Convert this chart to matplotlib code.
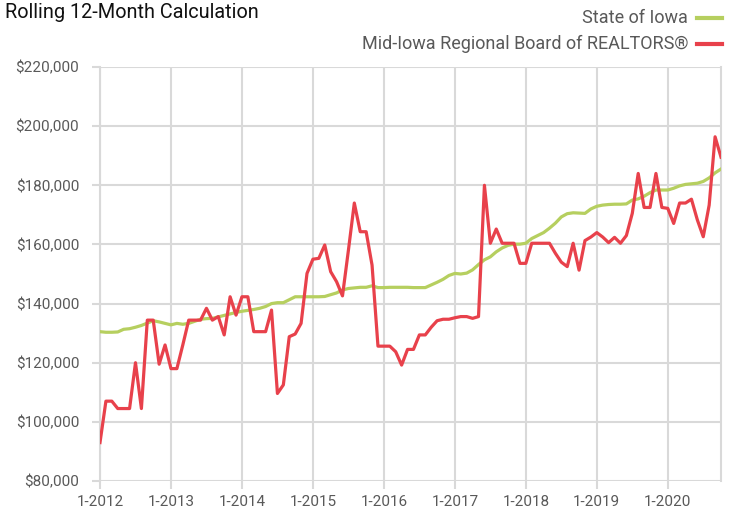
import matplotlib
matplotlib.use("Agg")
import matplotlib.pyplot as plt
from matplotlib.lines import Line2D
from matplotlib.ticker import FuncFormatter

plt.rcParams['font.family'] = ['Roboto', 'DejaVu Sans']

title = "Rolling 12-Month Calculation"
series_names = ["State of Iowa", "Mid-Iowa Regional Board of REALTORS®"]
tick_labels = ["1-2012", "1-2013", "1-2014", "1-2015", "1-2016",
               "1-2017", "1-2018", "1-2019", "1-2020"]

# Monthly values, Jan 2012 .. Oct 2020 (thousands of dollars)
state_iowa = [
    130.5, 130.3, 130.3, 130.4, 131.3, 131.5, 132.0, 132.6, 133.4, 134.2, 133.8, 133.3,
    132.8, 133.3, 133.0, 133.3, 134.0, 134.7, 134.9, 135.0, 135.5, 136.0, 136.5, 137.0,
    137.4, 137.7, 138.0, 138.4, 139.0, 140.0, 140.3, 140.3, 141.3, 142.3, 142.3, 142.3,
    142.3, 142.3, 142.4, 143.0, 143.6, 144.6, 145.1, 145.3, 145.5, 145.5, 146.0, 145.4,
    145.4, 145.5, 145.5, 145.5, 145.5, 145.4, 145.4, 145.4, 146.3, 147.2, 148.2, 149.5,
    150.2, 150.0, 150.3, 151.4, 153.2, 154.8, 155.8, 157.5, 158.8, 159.7, 160.1, 160.1,
    160.4, 162.0, 163.0, 164.0, 165.5, 167.2, 169.3, 170.4, 170.7, 170.6, 170.5, 172.0,
    172.9, 173.3, 173.5, 173.6, 173.6, 173.7, 175.0, 175.4, 176.3, 177.5, 178.4, 178.4,
    178.4, 179.0, 179.8, 180.3, 180.5, 180.7, 181.3, 182.5, 184.2, 185.5,
]
mid_iowa = [
    93.0, 107.0, 107.0, 104.5, 104.5, 104.5, 120.0, 104.5, 134.4, 134.4, 119.5, 126.0,
    118.0, 118.0, 126.0, 134.4, 134.4, 134.4, 138.4, 134.4, 135.6, 129.4, 142.3, 136.1,
    142.3, 142.3, 130.5, 130.5, 130.5, 137.8, 109.6, 112.5, 128.8, 129.7, 133.3, 150.2,
    155.0, 155.3, 159.8, 150.8, 147.4, 142.6, 158.0, 174.0, 164.3, 164.3, 153.0, 125.6,
    125.6, 125.6, 123.7, 119.2, 124.5, 124.5, 129.4, 129.4, 132.0, 134.2, 134.7, 134.7,
    135.2, 135.6, 135.6, 135.0, 135.6, 180.0, 160.4, 165.2, 160.4, 160.4, 160.4, 153.6,
    153.6, 160.4, 160.4, 160.4, 160.4, 157.0, 154.0, 152.5, 160.4, 151.3, 161.3, 162.5,
    164.0, 162.5, 160.6, 162.4, 160.4, 163.0, 170.5, 184.0, 172.5, 172.5, 184.0, 172.5,
    172.2, 167.1, 174.0, 174.0, 175.3, 168.3, 162.6, 173.3, 196.4, 189.5,
]

green = "#b6cf5f"
red = "#e8414b"
grid_c = "#d9d9d9"
text_c = "#595959"

fig = plt.figure(figsize=(7.29, 5.15), dpi=100)
ax = fig.add_axes([100/729, 1-481/515, 621/729, 414/515])

months = list(range(len(state_iowa)))
ax.plot(months, [v*1000 for v in state_iowa], color=green, lw=2.3, solid_joinstyle='round', zorder=3)
ax.plot(months, [v*1000 for v in mid_iowa], color=red, lw=2.3, solid_joinstyle='round', zorder=4)

ax.set_xlim(0, len(months)-1)
ax.set_ylim(80000, 220000)
ax.set_yticks(range(80000, 220001, 20000))
ax.yaxis.set_major_formatter(FuncFormatter(lambda v, p: "${:,.0f}".format(v)))
ax.set_xticks([12*i for i in range(len(tick_labels))])
ax.set_xticklabels(tick_labels)

ax.grid(True, color=grid_c, lw=1.5, zorder=0)
for s in ["top", "bottom"]:
    ax.spines[s].set_visible(False)
for s in ["left", "right"]:
    ax.spines[s].set_color(grid_c)
    ax.spines[s].set_linewidth(1.5)
ax.tick_params(axis='both', colors=grid_c, length=6, width=1.5, labelcolor=text_c, labelsize=11)
ax.tick_params(axis='y', pad=9)
ax.tick_params(axis='x', pad=4)

fig.text(5/729, 1-12/515, title, fontsize=14.3, color="#111111", ha='left', va='center')

# legend on the right top
ys = [18, 44]
cols = [green, red]
for name, y, c in zip(series_names, ys, cols):
    fig.text(688/729, 1-y/515, name, fontsize=13, color=text_c, ha='right', va='center')
    fig.add_artist(Line2D([697/729, 722/729], [1-y/515, 1-y/515], color=c, lw=3,
                          transform=fig.transFigure))

fig.savefig("out.png", dpi=100)
